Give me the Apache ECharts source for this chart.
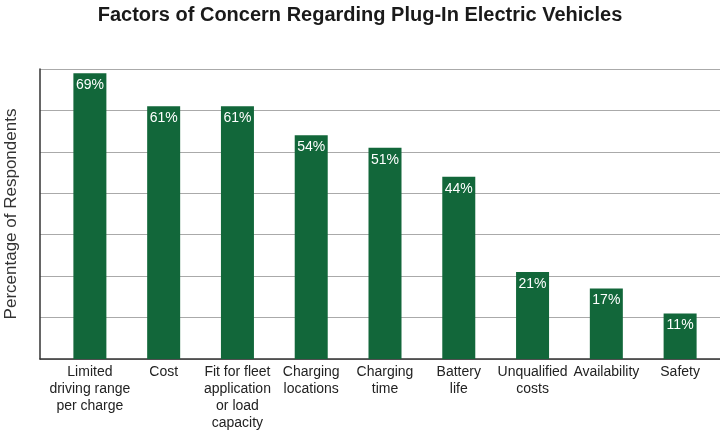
<!DOCTYPE html>
<html>
<head>
<meta charset="utf-8">
<script src="https://cdn.jsdelivr.net/npm/echarts@6/dist/echarts.min.js"></script>
<style>
  html, body { margin: 0; padding: 0; background: #fff; }
  #chart { width: 720px; height: 431px; }
</style>
</head>
<body>
<div id="chart"></div>
<script>
var categories = [
  'Limited\ndriving range\nper charge',
  'Cost',
  'Fit for fleet\napplication\nor load\ncapacity',
  'Charging\nlocations',
  'Charging\ntime',
  'Battery\nlife',
  'Unqualified\ncosts',
  'Availability',
  'Safety'
];
var percentValues = [69, 61, 61, 54, 51, 44, 21, 17, 11];

var barColor = '#12673a';
var fontFamily = 'Liberation Sans, Arial, sans-serif';

var chart = echarts.init(document.getElementById('chart'));

var option = {
  backgroundColor: '#fff',
  animation: false,
  title: {
    text: 'Factors of Concern Regarding Plug-In Electric Vehicles',
    left: 'center',
    top: 0,
    textStyle: {
      fontFamily: fontFamily,
      fontSize: 20,
      fontWeight: 'bold',
      color: '#1a1a1a'
    }
  },
  // grid 0 draws the frame and gridlines, grid 1 holds the bars
  grid: [
    { left: 40, right: 0, top: 69, bottom: 72, outerBoundsMode: 'none' },
    { left: 53, right: 3, top: 69, bottom: 72, outerBoundsMode: 'none' }
  ],
  xAxis: [{
    gridIndex: 0,
    type: 'value',
    min: 0,
    max: 1,
    interval: 1,
    axisLine: { show: true, lineStyle: { color: '#333', width: 1.5 } },
    axisTick: { show: false },
    axisLabel: { show: false },
    splitLine: { show: false }
  }, {
    gridIndex: 1,
    type: 'category',
    data: categories,
    axisLine: { show: false },
    axisTick: { show: false },
    axisLabel: {
      interval: 0,
      margin: 5,
      fontFamily: fontFamily,
      fontSize: 14,
      lineHeight: 17,
      color: '#222'
    }
  }],
  yAxis: [{
    gridIndex: 0,
    type: 'value',
    min: 0,
    max: 70,
    interval: 10,
    name: 'Percentage of Respondents',
    nameLocation: 'middle',
    nameGap: 20,
    nameTextStyle: {
      fontFamily: fontFamily,
      fontSize: 17,
      color: '#333'
    },
    axisLine: { show: true, lineStyle: { color: '#333', width: 1.5 } },
    axisTick: { show: false },
    axisLabel: { show: false },
    splitLine: { show: true, lineStyle: { color: '#aaa', width: 1.2 } }
  }, {
    gridIndex: 1,
    type: 'value',
    min: 0,
    max: 70,
    interval: 10,
    axisLine: { show: false },
    axisTick: { show: false },
    axisLabel: { show: false },
    splitLine: { show: false }
  }],
  series: [{
    type: 'bar',
    xAxisIndex: 1,
    yAxisIndex: 1,
    data: percentValues,
    barWidth: 33,
    itemStyle: { color: barColor },
    label: {
      show: true,
      position: 'insideTop',
      distance: 5,
      formatter: '{c}%',
      fontFamily: fontFamily,
      fontSize: 14,
      color: '#fff'
    }
  }]
};

chart.setOption(option);
</script>
</body>
</html>
